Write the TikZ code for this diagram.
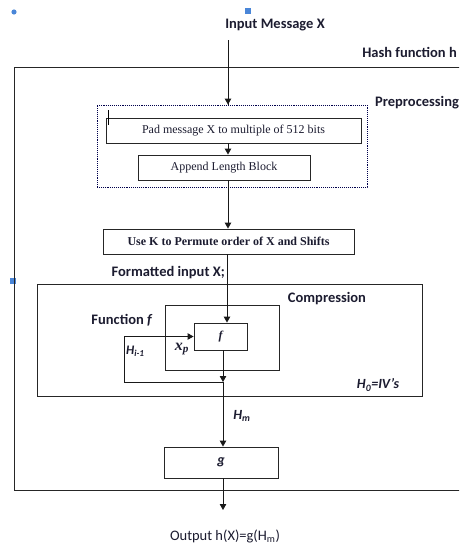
\documentclass[tikz,border=0pt]{standalone}
\usepackage{fontspec}
\setmainfont{Liberation Serif}
\newfontfamily\calibri{Carlito}
\usetikzlibrary{arrows.meta,positioning}
\definecolor{handle}{HTML}{4A86D8}
\definecolor{ink}{HTML}{1C1C30}

\tikzset{
  box/.style={draw=black!85, line width=0.9pt, inner sep=0pt, text=ink,
    font=\fontsize{12}{14}\selectfont},
  frame/.style={draw=black!85, line width=0.9pt, inner sep=0pt},
  lbl/.style={inner sep=1pt, text=ink, font=\calibri\bfseries\fontsize{14.5}{16}\selectfont},
  link/.style={draw=black!90, line width=0.9pt, -{Triangle[length=6pt,width=6.5pt]}},
  wire/.style={draw=black!90, line width=0.9pt}
}

\begin{document}
\begin{tikzpicture}[x=1pt,y=-1pt]
  \useasboundingbox (0,0) rectangle (459,544);
  \clip (0,0) rectangle (459,544);

  % selection handles
  \fill[handle] (14,12) circle (2.6);
  \fill[handle] (245,8) rectangle (251,14);
  \fill[handle] (10,278) rectangle (16,284);

  % outer hash function frame
  \node[frame, minimum width=456pt, minimum height=423pt] (hash) at (242,278.5) {};
  \node[lbl, anchor=east] (hashlbl) at (458,52) {Hash function h};
  \node[lbl] (inp) at (275,25) {Input Message X};

  % preprocessing
  \node[draw=black!70!blue, densely dotted, line width=0.9pt, inner sep=0pt,
    minimum width=270pt, minimum height=82pt] (pre) at (232,146) {};
  \node[lbl, anchor=west] (prelbl) at (374,103) {Preprocessing};
  \node[box, minimum width=255pt, minimum height=25pt] (pad) at (233.5,130.5)
    {Pad message X to multiple of 512 bits};
  \node[box, minimum width=172pt, minimum height=25pt] (app) at (224,167.5)
    {Append Length Block};
  \draw[line width=0.6pt] (108,110) -- (108,125);

  \node[box, font=\bfseries\fontsize{12}{14}\selectfont,
    minimum width=251pt, minimum height=25pt] (usek) at (228.5,241.5)
    {Use K to Permute order of X and Shifts};
  \node[lbl, anchor=east] (fmt) at (226,273) {Formatted input X;};

  % compression
  \node[frame, minimum width=385pt, minimum height=112pt] (comp) at (229.5,340) {};
  \node[lbl] (complbl) at (327,299) {Compression};
  \node[frame, minimum width=114pt, minimum height=65pt] (func) at (222,337.5) {};
  \node[lbl] (funclbl) at (122,320) {Function \textit{f}};
  \node[box, minimum width=53pt, minimum height=27pt] (fbox) at (220.5,336.5)
    {\bfseries\itshape f};
  \node[lbl, anchor=west, font=\calibri\bfseries\itshape\fontsize{13}{15}\selectfont]
    (hin) at (125,351) {H\textsubscript{i-1}};
  \node[text=ink, font=\bfseries\itshape\fontsize{16}{18}\selectfont] (xp) at (182,349)
    {x\textsubscript{p}};
  \node[lbl, font=\calibri\bfseries\itshape\fontsize{14}{16}\selectfont] (h0) at (378,385)
    {H\textsubscript{0}=IV’s};

  % output stage
  \node[lbl, font=\calibri\bfseries\itshape\fontsize{14}{16}\selectfont] (hm) at (242,416)
    {H\textsubscript{m}};
  \node[box, minimum width=114pt, minimum height=31pt] (g) at (221,462.5)
    {\calibri\bfseries\itshape\fontsize{14}{16}\selectfont g};
  \node[lbl, font=\calibri\fontsize{14.5}{16}\selectfont] (out) at (225,536)
    {Output h(X)=g(H\textsubscript{m})};

  % connectors
  \coordinate (spine) at (228,0);
  \coordinate (join) at (223,382);
  \coordinate (loop) at (124,382);
  \coordinate (outend) at (223,510);
  \draw[wire] (spine |- 0,40) -- (pre.north -| spine);
  \draw[link] (pre.north -| spine) ++(0,-8) -- (pre.north -| spine);
  \draw[link] (pad.south -| spine) -- (app.north -| spine);
  \draw[link] (app.south -| spine) -- (usek.north -| spine);
  \draw[link] (usek.south -| 227,0) -- (fbox.north -| 227,0);
  \draw[link] (fbox.south -| join) -- (join);
  \draw[link] (join) -- (loop) |- (fbox.west);
  \draw[link] (join) -- (g.north -| join);
  \draw[link] (g.south -| outend) -- (outend);
\end{tikzpicture}
\end{document}
